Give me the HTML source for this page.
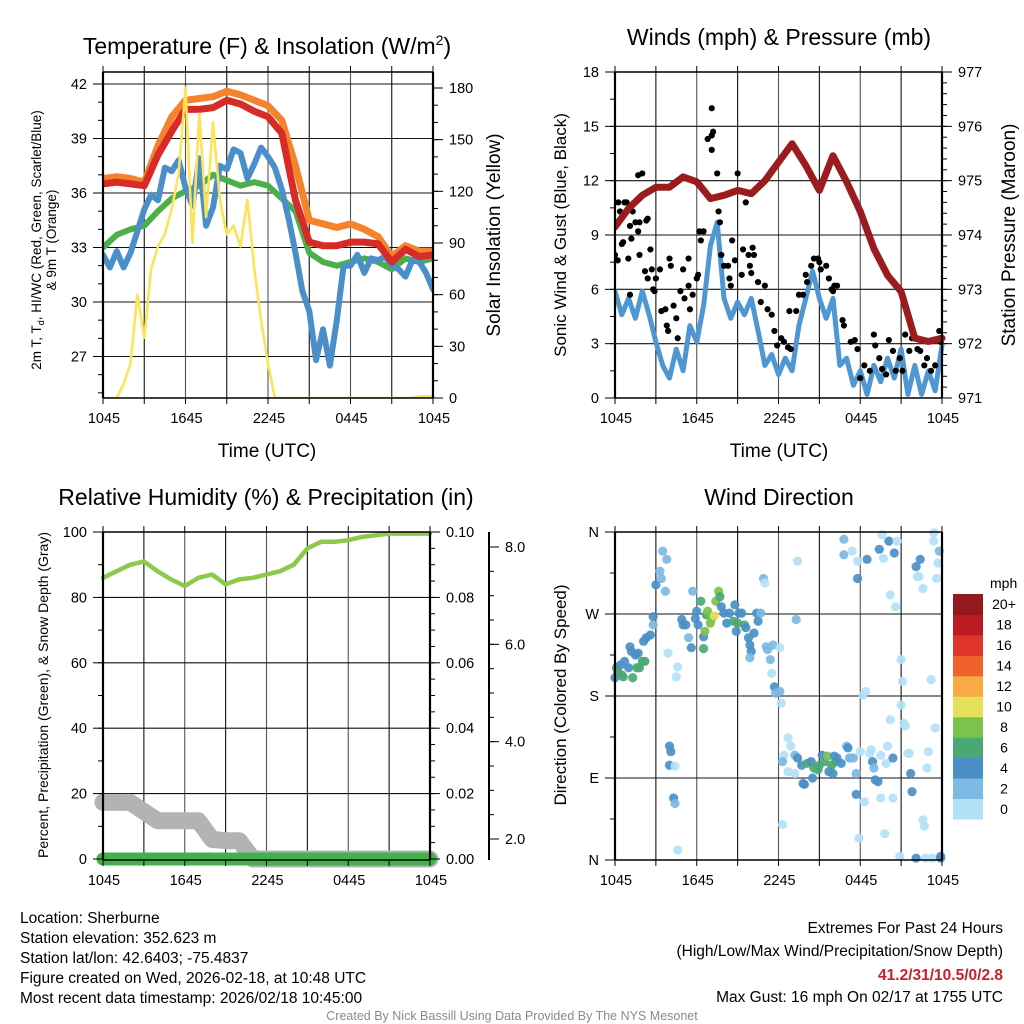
<!DOCTYPE html>
<html><head><meta charset="utf-8"><style>
html,body{margin:0;padding:0;background:#fff}
svg{display:block;font-family:"Liberation Sans",Arial,sans-serif}
</style></head><body>
<svg id="fig" width="1024" height="1024" viewBox="0 0 1024 1024" xmlns="http://www.w3.org/2000/svg">
<rect width="1024" height="1024" fill="#fff"/>
<g id="bg"></g>
<text x="267" y="54" font-size="23" text-anchor="middle">Temperature (F) &amp; Insolation (W/m<tspan dy="-9" font-size="14">2</tspan><tspan dy="9">)</tspan></text>
<text x="779" y="45" font-size="23" text-anchor="middle">Winds (mph) &amp; Pressure (mb)</text>
<text x="266" y="505" font-size="23" text-anchor="middle">Relative Humidity (%) &amp; Precipitation (in)</text>
<text x="779" y="505" font-size="23" text-anchor="middle">Wind Direction</text>
<text x="267" y="457" font-size="19" text-anchor="middle">Time (UTC)</text>
<text x="779" y="457" font-size="19" text-anchor="middle">Time (UTC)</text>
<g font-size="13.5" text-anchor="middle">
<text transform="translate(41,240) rotate(-90)">2m T, T<tspan dy="3" font-size="9">d</tspan><tspan dy="-3">, HI/WC (Red, Green, Scarlet/Blue)</tspan></text>
<text transform="translate(56,240) rotate(-90)">&amp; 9m T (Orange)</text>
</g>
<text transform="translate(500,235) rotate(-90)" font-size="19" text-anchor="middle">Solar Insolation (Yellow)</text>
<text transform="translate(566,235) rotate(-90)" font-size="17" text-anchor="middle">Sonic Wind &amp; Gust (Blue, Black)</text>
<text transform="translate(1015,235) rotate(-90)" font-size="19" text-anchor="middle">Station Pressure (Maroon)</text>
<text transform="translate(48,695) rotate(-90)" font-size="14" text-anchor="middle">Percent, Precipitation (Green), &amp; Snow Depth (Gray)</text>
<text transform="translate(566,695) rotate(-90)" font-size="17" text-anchor="middle">Direction (Colored By Speed)</text>
<g id="marks"></g>
<g id="axes"></g>
<g font-size="15.5">
<text x="20" y="923">Location: Sherburne</text>
<text x="20" y="943">Station elevation: 352.623 m</text>
<text x="20" y="963">Station lat/lon: 42.6403; -75.4837</text>
<text x="20" y="983">Figure created on Wed, 2026-02-18, at 10:48 UTC</text>
<text x="20" y="1003">Most recent data timestamp: 2026/02/18 10:45:00</text>
</g>
<g font-size="15.5" text-anchor="end">
<text x="1003" y="933">Extremes For Past 24 Hours</text>
<text x="1003" y="956">(High/Low/Max Wind/Precipitation/Snow Depth)</text>
<text x="1003" y="980" fill="#c8202a" font-weight="bold">41.2/31/10.5/0/2.8</text>
<text x="1003" y="1002">Max Gust: 16 mph On 02/17 at 1755 UTC</text>
</g>
<text x="512" y="1020" font-size="12.5" fill="#8a8a8a" text-anchor="middle">Created By Nick Bassill Using Data Provided By The NYS Mesonet</text>
</svg>
<script>
const timeTicks = ["1045","1645","2245","0445","1045"];
const hourly = [0,1,2,3,4,5,6,7,8,9,10,11,12,13,14,15,16,17,18,19,20,21,22,23,24];
const halfHourly = [0,0.5,1,1.5,2,2.5,3,3.5,4,4.5,5,5.5,6,6.5,7,7.5,8,8.5,9,9.5,10,10.5,11,11.5,12,12.5,13,13.5,14,14.5,15,15.5,16,16.5,17,17.5,18,18.5,19,19.5,20,20.5,21,21.5,22,22.5,23,23.5,24];
const temp2m = [36.5,36.6,36.5,36.4,38.1,39.4,40.6,40.6,40.7,41.1,40.9,40.5,40.2,39.3,35.6,33.3,33.1,33.1,33.3,33.3,33.2,32.2,32.9,32.5,32.6];
const temp9m = [36.8,36.9,36.8,36.6,38.6,40.2,41.1,41.2,41.3,41.6,41.4,41.1,40.8,40.0,37.5,34.5,34.3,34.1,34.3,34.0,33.6,32.5,33.1,32.8,32.8];
const dewGreen = [33.0,33.7,34.0,34.2,35.0,35.7,36.1,36.4,37.0,36.7,36.4,36.6,36.4,35.7,35.0,32.7,32.2,32.0,32.2,32.4,32.2,31.8,32.4,32.2,32.4];
const hiwcBlue = [32.6,31.9,32.8,31.9,32.7,33.9,35.1,35.9,35.6,37.4,37.2,37.8,36.3,35.3,37.9,34.2,35.2,37.5,37.3,38.4,38.2,36.8,37.6,38.5,38.0,37.4,36.2,34.6,32.7,30.6,29.5,26.8,28.5,26.5,29.0,32.0,32.0,32.6,31.6,32.4,32.3,32.5,32.0,31.8,31.4,32.3,32.2,31.6,30.7];
const insolation = [0,0,0,8,20,60,35,75,88,95,110,130,180,90,165,105,160,115,95,100,88,115,75,45,20,0,0,0,0,0,0,0,0,0,0,0,0,0,0,0,0,0,0,0,0,0,1,1,1];
const tempTicks = [27,30,33,36,39,42];
const insolTicks = [0,30,60,90,120,150,180];

const windSpeed = [5.9,4.6,5.5,4.4,5.9,4.6,3.1,1.8,1.1,2.7,1.5,4.0,3.1,5.1,8.4,9.7,5.5,4.4,5.3,4.6,5.5,3.7,1.8,2.4,1.3,2.2,1.5,4.0,5.5,7.0,5.5,4.4,5.5,1.8,2.2,0.7,1.5,0.2,1.8,0.9,2.2,1.1,2.7,0.2,1.8,0.2,1.5,0.4,2.9];
const pressure = [974.15,974.49,974.73,974.88,974.88,975.07,974.98,974.67,974.73,974.82,974.76,975.0,975.34,975.68,975.28,974.82,975.46,974.98,974.43,973.75,973.26,972.96,972.1,972.04,972.1];
const gustTime = [0,0.2,0.24,0.7,0.37,0.5,0.6,0.85,1.1,1.2,0.98,1.1,1.3,1.5,1.7,1.8,1.7,2,1.8,2.3,2.4,2.2,2.6,2.4,2.7,2.8,3.0,2.9,3.3,3.4,3.7,3.8,3.9,4.0,4.1,4.3,4.5,4.6,4.8,5,5.1,5.4,5.5,5.4,5.7,6,6.1,6.2,6.3,6.5,6.6,6.8,7.1,7.2,7.1,7.1,7.5,7.6,7.7,7.8,8.0,8.3,8.4,8.5,8.6,8.8,9.0,9.3,9.4,9.6,9.8,9.9,10,10.1,10.2,10.5,10.7,11,11.2,11.5,11.7,11.9,12.2,12.4,12.7,12.8,12.9,13.3,13.5,13.8,14,14.1,14.4,14.6,14.9,15,15.1,15.5,15.7,15.9,16,16.1,16.3,16.7,16.8,17.3,17.6,17.8,18,18.3,18.7,19,19.1,19.4,19.6,19.9,20.1,20.4,20.6,20.9,21.1,21.3,21.6,21.8,22.2,22.4,22.7,22.9,23.2,23.5,23.8,23.9];
const gustSpeed = [7.9,7.6,10.8,10.8,10.3,8.5,8.6,10.8,9.5,8.8,7.7,5.7,10.3,9.7,9.2,9.7,12.3,12.4,7.9,9.8,9.9,7,8.2,6.6,7.1,6.0,6.6,5.9,7.1,4.8,4.9,4.0,3.7,7.7,7.3,5.1,4.4,3.3,5.9,7.1,5.5,6.2,4.9,7.7,5.7,6.6,6.8,9.2,8.7,9.2,11.4,14.3,14.5,14.7,13.7,16.0,12.4,10.3,9.7,7.9,7.3,7.3,6.6,6.2,8.7,7.6,12.4,6.8,8.2,10.8,7.9,7.3,6.9,8.3,7.9,6.4,5.3,6.2,4.9,4.6,3.7,2.9,3.3,3.1,2.8,4.8,2.7,4.8,5.7,5.7,6.8,6.4,7.3,7.7,7.7,7.5,7.1,7.3,6.6,6.0,5.9,6.2,6.2,4.3,4.0,3.1,3.2,2.7,1.1,1.8,1.5,3.5,2.9,2.2,1.6,1.3,3.2,2.6,1.5,2.2,1.5,3.5,2.6,3.3,2.7,2.6,1.8,2.2,1.5,1.8,3.7,3.1];
const windTicks = [0,3,6,9,12,15,18];
const pressTicks = [971,972,973,974,975,976,977];

const rh = [86,88,90,91,88,85.5,83.5,86,87,84,85.5,86,87,88,90,95,97,97,97.5,98.5,99,99.5,99.5,99.5,99.5];
const snowDepthPct = [17.3,17.3,17.3,14.5,11.7,11.7,11.7,11.7,6.0,5.6,5.6,0,0,0,0,0,0,0,0,0,0,0,0,0,0];
const precip = [0,0,0,0,0,0,0,0,0,0,0,0,0,0,0,0,0,0,0,0,0,0,0,0,0];
const rhTicks = [0,20,40,60,80,100];
const precipTicks = ["0.00","0.02","0.04","0.06","0.08","0.10"];
const snowTicks = [2,4,6,8];

const dirTime = [0.0,0.1,0.2,0.4,0.5,0.6,0.7,1.0,1.2,1.3,1.1,1.5,1.6,1.8,2.0,2.2,1.7,2.1,2.3,2.6,2.8,2.8,3.0,3.3,3.4,3.7,3.5,3.8,3.9,4.0,4.1,4.0,4.4,4.6,4.5,4.3,4.4,4.6,4.9,5.0,5.2,5.4,5.6,5.7,5.9,6.0,6.1,6.3,6.5,6.5,6.6,6.7,6.8,7.0,7.1,7.3,7.4,7.6,7.7,7.8,8.0,8.2,8.4,8.7,8.8,8.9,9.0,9.1,9.3,9.5,9.6,9.8,9.9,10.0,10.2,10.4,10.5,10.7,9.9,10.9,11.0,11.1,11.2,11.4,11.6,11.5,11.7,11.8,12.1,12.1,12.2,12.3,12.4,12.7,12.9,13.2,13.4,13.3,12.3,12.7,13.2,13.4,13.7,13.8,13.9,14.1,14.4,14.5,14.6,14.9,15.0,15.2,15.4,15.6,15.7,15.9,16.0,16.1,16.2,16.3,16.6,16.8,16.8,17.0,17.1,17.2,17.3,17.4,17.5,17.7,17.8,17.8,17.7,17.9,18.0,18.2,18.3,18.4,18.5,18.7,18.8,18.9,19.0,19.1,19.3,19.4,19.5,19.5,19.6,19.7,19.8,19.9,20.0,20.1,20.2,20.2,20.4,20.4,20.5,20.6,20.7,20.9,21.0,21.0,21.1,21.2,21.3,21.5,21.6,21.7,21.8,22.1,22.1,22.2,22.3,22.4,22.6,22.6,22.7,22.8,22.9,23.0,23.2,23.3,23.4,23.4,23.5,23.6,23.7,23.8,23.9,23.9];
const dirDeg = [200,211,207,214,203,201,218,211,229,200,234,225,211,211,218,218,227,240,244,247,267,258,302,317,309,295,339,330,227,125,119,104,103,212,201,68,62,11,264,258,258,244,233,295,265,273,258,284,245,232,251,269,273,260,265,268,284,295,289,278,271,260,271,262,280,251,260,271,271,258,255,244,236,229,249,271,262,271,222,309,304,234,231,220,236,205,190,183,185,233,172,39,115,134,125,115,328,264,108,97,95,112,104,84,83,106,108,90,101,99,104,115,108,114,97,104,95,114,108,112,106,352,335,125,123,112,112,339,112,95,309,328,72,24,119,181,64,185,330,117,121,108,101,88,86,341,68,115,357,331,29,106,125,350,291,154,112,68,337,278,350,4,170,220,196,150,147,117,117,95,75,322,2,311,311,330,298,44,37,2,101,119,198,2,350,359,145,309,326,339,2,4];
const dirSpeed = [5,7,7,5,7,7,5,5,5,7,5,5,7,7,7,7,5,5,5,5,5,3,5,3,3,3,3,3,1,5,5,5,1,1,1,5,3,1,5,5,5,3,5,3,5,5,5,7,5,7,9,7,9,9,9,11,9,9,7,5,5,5,5,7,5,5,7,5,5,7,5,5,5,5,5,5,5,3,3,3,1,3,3,3,3,1,5,3,3,1,1,1,1,1,1,3,1,3,3,1,1,5,5,5,5,7,5,5,7,7,7,5,7,9,5,7,5,5,7,5,5,3,3,3,5,3,3,1,3,3,5,1,5,1,1,1,1,1,5,1,1,5,3,5,5,5,1,1,1,1,1,1,1,5,1,1,5,1,5,1,1,1,1,1,1,1,1,1,1,5,5,5,5,1,1,5,1,1,1,1,1,1,1,1,1,1,1,1,1,3,5,5];
const dirTicks = ["N","E","S","W","N"];
const speedBins = ["0","2","4","6","8","10","12","14","16","18","20+"];
const speedColors = ["#b3e1f7","#7cb9e3","#4a8fc7","#4aa874","#7dc24c","#e6e05a","#f7aa45","#f0622b","#e0332a","#bb1c24","#921a1c"];

const NS = "http://www.w3.org/2000/svg";
const bg = document.getElementById('bg'), marks = document.getElementById('marks'), axes = document.getElementById('axes');
function mk(tag, attrs, parent){ const e=document.createElementNS(NS,tag); for(const k in attrs) e.setAttribute(k,attrs[k]); parent.appendChild(e); return e; }
function lin(d0,d1,r0,r1){ return v => r0 + (v-d0)/(d1-d0)*(r1-r0); }
function pathFrom(xs, ys, fx, fy){ let d=''; for(let i=0;i<xs.length;i++){ d += (i?'L':'M') + fx(xs[i]).toFixed(1) + ',' + fy(ys[i]).toFixed(1); } return d; }

function frame(p, name){
  const g = mk('g',{},axes);
  
  
  mk('line',{x1:p.x0,y1:p.y0,x2:p.x1,y2:p.y0,stroke:'#000','stroke-width':1.6},g);
  mk('line',{x1:p.x0,y1:p.y1,x2:p.x1,y2:p.y1,stroke:'#000','stroke-width':1.6},g);
  mk('line',{x1:p.x0,y1:p.y0,x2:p.x0,y2:p.y1,stroke:'#000','stroke-width':2.2},g);
  mk('line',{x1:p.x1,y1:p.y0,x2:p.x1,y2:p.y1,stroke:'#000','stroke-width':2.2},g);
  const fx = lin(0,24,p.x0,p.x1);
  for(let h=3; h<24; h+=3){ mk('line',{x1:fx(h),y1:p.y0,x2:fx(h),y2:p.y1,stroke:(h%6? '#111':'#555'),'stroke-width':1.1},bg); }
  for(let h=0; h<=24; h+=3){ mk('line',{x1:fx(h),y1:p.y1,x2:fx(h),y2:p.y1+6,stroke:'#000','stroke-width':1},g); mk('line',{x1:fx(h),y1:p.y0,x2:fx(h),y2:p.y0-6,stroke:'#000','stroke-width':1},g); }
  timeTicks.forEach((t,i)=>{ const tx = mk('text',{x:fx(i*6)+1,y:p.y1+25,'font-size':14.5,'text-anchor':'middle'},g); tx.textContent=t;
    
     });
  return fx;
}
function yAxis(p, ticks, fy, side, labels, name, grid, minorStep){
  const g = mk('g',{},axes);
  
  
  const x = side==='l'? p.x0 : p.x1, s = side==='l'? -1 : 1;
  ticks.forEach((v,i)=>{
    const y = fy(v);
    if(grid) mk('line',{x1:p.x0,y1:y,x2:p.x1,y2:y,stroke:'#111','stroke-width':1.1},bg);
    mk('line',{x1:x,y1:y,x2:x+s*10,y2:y,stroke:'#000','stroke-width':1},g);
    const tx = mk('text',{x:x+s*16,y:y+5,'font-size':14.5,'text-anchor':side==='l'?'end':'start'},g);
    tx.textContent = labels? labels[i] : v;
  });
  if(minorStep){ for(let v=ticks[0]-minorStep*4; v<=ticks[ticks.length-1]+minorStep*4; v+=minorStep){ const y=fy(v); if(y>=p.y0 && y<=p.y1) mk('line',{x1:x,y1:y,x2:x+s*5,y2:y,stroke:'#000','stroke-width':1},g); } }
}
function series(parent, xs, ys, fx, fy, color, w, name){
  const e = mk('path',{d:pathFrom(xs,ys,fx,fy),fill:'none',stroke:color,'stroke-width':w,'stroke-linejoin':'round','stroke-linecap':'round'},parent);
  
  
  return e;
}

// panel 1
const P1 = {x0:103,x1:433,y0:72,y1:398};
const fx1 = frame(P1,'temperature');
const fyT = lin(36,42,193,84);
const fyI = lin(0,180,398,88);
yAxis(P1,tempTicks,fyT,'l',null,'temperature-y-axis',true,1);
yAxis(P1,insolTicks,fyI,'r',null,'insolation-y-axis',false,10);
const clip1 = mk('clipPath',{id:'c1'},marks); mk('rect',{x:P1.x0,y:P1.y0,width:P1.x1-P1.x0,height:P1.y1-P1.y0},clip1);
const g1 = mk('g',{'clip-path':'url(#c1)'},marks);
series(g1,hourly,dewGreen,fx1,fyT,'#4cb04a',6,'dewpoint-line');
series(g1,halfHourly,hiwcBlue,fx1,fyT,'#4a8fc9',6,'heat-index-wind-chill-line');
series(g1,hourly,temp9m,fx1,fyT,'#f5822c',7,'temp-9m-line');
series(g1,hourly,temp2m,fx1,fyT,'#d62b27',7,'temp-2m-line');
series(g1,halfHourly,insolation,fx1,fyI,'#fbe35a',2.6,'insolation-line');

// panel 2
const P2 = {x0:615,x1:942,y0:72,y1:398};
const fx2 = frame(P2,'wind');
const fyW = lin(0,18,398,72);
const fyP = lin(971,977,398,72);
yAxis(P2,windTicks,fyW,'l',null,'wind-y-axis',true,1.5);
yAxis(P2,pressTicks,fyP,'r',null,'pressure-y-axis',false,0.2);
const clip2 = mk('clipPath',{id:'c2'},marks); mk('rect',{x:P2.x0,y:P2.y0-4,width:P2.x1-P2.x0+4,height:P2.y1-P2.y0+4},clip2);
const g2 = mk('g',{'clip-path':'url(#c2)'},marks);
series(g2,halfHourly,windSpeed,fx2,fyW,'#4f97d2',5,'wind-speed-line');
gustTime.forEach((t,i)=>{
  const c = mk('circle',{cx:fx2(t),cy:fyW(gustSpeed[i]),r:3.1,fill:'#000'},g2);
  
  
});
series(g2,hourly,pressure,fx2,fyP,'#9b1c1f',7,'pressure-line');

// panel 3
const P3 = {x0:103,x1:430,y0:532,y1:860};
const fx3 = frame(P3,'humidity');
const fyR = lin(0,100,859,532);
yAxis(P3,rhTicks,fyR,'l',null,'humidity-y-axis',true,10);
yAxis(P3,rhTicks,fyR,'r',precipTicks,'precip-y-axis',false,5);
const fyS = lin(2,8,839,547);
(function(){
  const g = mk('g',{},axes);
  
  
  mk('line',{x1:489,y1:532,x2:489,y2:860,stroke:'#000','stroke-width':2},g);
  for(let v=1.5; v<=8.3; v+=0.5){ const y=fyS(v); if(y>=532&&y<=860) mk('line',{x1:489,y1:y,x2:494,y2:y,stroke:'#000','stroke-width':1},g); }
  snowTicks.forEach(v=>{ const y=fyS(v); mk('line',{x1:489,y1:y,x2:499,y2:y,stroke:'#000','stroke-width':1},g);
    const t=mk('text',{x:505,y:y+5,'font-size':14.5},g); t.textContent=v.toFixed(1); });
})();
const g3 = mk('g',{},marks);
series(g3,hourly,snowDepthPct,fx3,fyR,'#b3b3b3',17,'snow-depth-line');
series(g3,hourly,precip,fx3,fyR,'#3fb34a',13,'precipitation-line');
series(g3,hourly,rh,fx3,fyR,'#8cc94c',4.5,'relative-humidity-line');

// panel 4
const P4 = {x0:615,x1:942,y0:532,y1:860};
const fx4 = frame(P4,'direction');
const fyD = lin(0,360,860,532);
yAxis(P4,[0,90,180,270,360],fyD,'l',dirTicks,'direction-y-axis',true,45);
const g4 = mk('g',{},marks);
dirTime.forEach((t,i)=>{
  const bin = Math.min(10, Math.max(0, Math.floor(dirSpeed[i]/2)));
  const c = mk('circle',{cx:fx4(t),cy:fyD(dirDeg[i]),r:4.6,fill:speedColors[bin],'fill-opacity':0.92},g4);
  
  
});
(function(){
  const g = mk('g',{},axes);
  
  
  const t0 = mk('text',{x:990,y:588,'font-size':14},g); t0.textContent='mph';
  const h = 225/11;
  speedBins.forEach((lab,i)=>{
    const y = 594 + (10-i)*h;
    mk('rect',{x:953,y:y,width:30,height:h+0.5,fill:speedColors[i]},g);
    const t = mk('text',{x:1004,y:y+h/2+5,'font-size':14,'text-anchor':'middle'},g); t.textContent=lab;
  });
})();
</script>
</body></html>
